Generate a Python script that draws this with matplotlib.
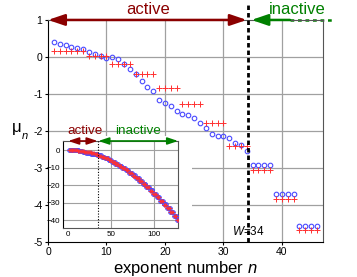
import matplotlib.pyplot as plt
import numpy as np
from matplotlib.patches import Rectangle

plt.rcParams['font.family'] = ['Liberation Sans', 'DejaVu Sans']
plt.rcParams['mathtext.fontset'] = 'custom'
plt.rcParams['mathtext.rm'] = 'Liberation Sans'
plt.rcParams['mathtext.it'] = 'Liberation Sans:italic'

# circles: n = 1..34 one by one, then flat groups of 4
circ_single = [0.40, 0.36, 0.32, 0.28, 0.24, 0.21, 0.14, 0.09, 0.02, -0.02,
               0.00, -0.05, -0.20, -0.33, -0.46, -0.65, -0.81, -0.92, -1.16, -1.25,
               -1.33, -1.45, -1.55, -1.58, -1.66, -1.79, -1.93, -2.09, -2.13, -2.15,
               -2.20, -2.32, -2.38, -2.55]
circ_groups = [-2.91, -3.70, -4.57]
# crosses: flat groups
plus_levels = [0.17, 0.03, -0.19, -0.46, -0.84, -1.26, -1.79, -2.40, -3.07, -3.84, -4.68]
plus_sizes = [6, 4, 4, 4, 4, 4, 4, 4, 4, 4, 4]

# inset: continuation of the groups up to n = 130
inset_circ_groups = [-2.91, -3.70, -4.57, -5.5, -6.5, -7.6, -8.8, -10.0, -11.4, -12.9,
                     -14.4, -16.0, -17.7, -19.4, -21.2, -23.0, -24.9, -26.9, -28.9, -31.0,
                     -33.1, -35.3, -37.6, -39.9]
inset_plus_groups = [-3.07, -3.84, -4.68, -5.6, -6.6, -7.7, -8.9, -10.1, -11.5, -13.0,
                     -14.5, -16.1, -17.8, -19.5, -21.3, -23.1, -25.0, -27.0, -29.0, -31.1,
                     -33.2, -35.4, -37.7, -40.0]

W = 34
w_line = 34.3

BLUE = '#4a4aff'
RED = '#ff3030'
DRED = '#8b0000'
GREEN = '#008000'
GRID = '#a0a0a0'

circ = np.concatenate([circ_single, np.repeat(circ_groups, 4)])
n_circ = np.arange(1, len(circ) + 1)
plus = np.repeat(plus_levels, plus_sizes)
n_plus = np.arange(1, len(plus) + 1)

in_circ = np.concatenate([circ_single, np.repeat(inset_circ_groups, 4)])
in_plus = np.concatenate([np.repeat(plus_levels[:8], plus_sizes[:8]),
                          np.repeat(inset_plus_groups, 4)])

fig = plt.figure(figsize=(3.57, 2.77), dpi=100)
ax = fig.add_axes([0.1345, 0.127, 0.7695, 0.801])
ax.set_xlim(0, 47)
ax.set_ylim(-5, 1)
ax.set_xticks([0, 10, 20, 30, 40])
ax.set_yticks([-5, -4, -3, -2, -1, 0, 1])
ax.set_yticklabels(['-5', '-4', '-3', '-2', '-1', '0', '1'])
ax.tick_params(labelsize=7.5, length=2.5, width=0.8, pad=1.5)
for x in [10, 20, 30, 40]:
    ax.axvline(x, color=GRID, lw=0.9, zorder=0.5)
for y in [0, -1, -2, -3, -4]:
    ax.axhline(y, color=GRID, lw=0.9, zorder=0.5)
for s in ['left', 'bottom']:
    ax.spines[s].set_color('black')
for s in ['right', 'top']:
    ax.spines[s].set_color('#555555')

# white area behind the inset
ax.add_patch(Rectangle((0, -5), 24.7, 2.85, facecolor='white', edgecolor='none', zorder=1))

ax.plot(n_circ, circ, 'o', ms=3.3, mfc='none', mec=BLUE, mew=0.8, zorder=3)
ax.plot(n_plus, plus, '+', ms=4.0, color=RED, mew=0.7, zorder=3)

ax.plot([w_line, w_line], [-5, 1.42], color='black', lw=2.0, dashes=(1.6, 1.1),
        clip_on=False, zorder=4)
ax.text(w_line, -4.73, r'$W$=34', fontsize=8.5, ha='center', va='center', zorder=5)

ax.annotate('', xy=(0, 1), xytext=(34.0, 1), annotation_clip=False,
            arrowprops=dict(arrowstyle='<|-|>,head_length=0.5,head_width=0.17',
                            mutation_scale=20, color=DRED, lw=1.8,
                            shrinkA=0, shrinkB=0))
ax.annotate('', xy=(34.8, 1), xytext=(41.4, 1), annotation_clip=False,
            arrowprops=dict(arrowstyle='-|>,head_length=0.5,head_width=0.17',
                            mutation_scale=20, color=GREEN, lw=1.8,
                            shrinkA=0, shrinkB=0))
ax.plot([41.4, 48.8], [1, 1], color=GREEN, lw=1.8, dashes=(1.5, 1.5), clip_on=False)
ax.text(17.1, 1.15, 'active', color=DRED, fontsize=12, ha='center', va='baseline')
ax.text(42.6, 1.15, 'inactive', color=GREEN, fontsize=12, ha='center', va='baseline')

# y label: upright mu with italic subscript n
fig.text(0.034, 0.538, 'μ', fontsize=12, ha='left', va='center')
fig.text(0.060, 0.508, 'n', fontsize=8, style='italic', ha='left', va='center')
ax.set_xlabel('exponent number $n$', fontsize=12, labelpad=1)

# inset
ins = fig.add_axes([0.177, 0.176, 0.322, 0.315])
ins.set_xlim(-5.8, 128)
ins.set_ylim(-44.7, 5.3)
ins.set_xticks([0, 50, 100])
ins.set_yticks([-40, -30, -20, -10, 0])
ins.tick_params(labelsize=5.8, length=0, pad=2)
for x in [50, 100]:
    ins.axvline(x, color=GRID, lw=0.8, zorder=0.5)
for y in [-40, -30, -20, -10, 0]:
    ins.axhline(y, color=GRID, lw=0.8, zorder=0.5)
for s in ['right', 'top', 'bottom']:
    ins.spines[s].set_color('#555555')
    ins.spines[s].set_linewidth(0.8)
ins.spines['left'].set_linewidth(0.8)
ins.plot(np.arange(1, len(in_circ) + 1), in_circ, 'o', ms=2.6, mfc='none', mec=BLUE,
         mew=0.7, zorder=3)
ins.plot(np.arange(1, len(in_plus) + 1), in_plus, '+', ms=2.6, color=RED, mew=0.6, zorder=3)
ins.axvline(w_line, color='black', lw=0.8, ls=(0, (1, 1.5)), zorder=4)
ins.annotate('', xy=(0, 5.3), xytext=(w_line, 5.3), annotation_clip=False,
             arrowprops=dict(arrowstyle='<|-|>,head_length=0.45,head_width=0.15',
                             mutation_scale=14, color=DRED, lw=1.2, shrinkA=0, shrinkB=0))
ins.annotate('', xy=(w_line + 0.8, 5.3), xytext=(128, 5.3), annotation_clip=False,
             arrowprops=dict(arrowstyle='<|-|>,head_length=0.45,head_width=0.15',
                             mutation_scale=14, color=GREEN, lw=1.2, shrinkA=0, shrinkB=0))
ins.text(19.2, 10.8, 'active', color=DRED, fontsize=9.7, ha='center', va='center')
ins.text(81.4, 10.8, 'inactive', color=GREEN, fontsize=9.7, ha='center', va='center')

fig.savefig('out.png', dpi=100)
